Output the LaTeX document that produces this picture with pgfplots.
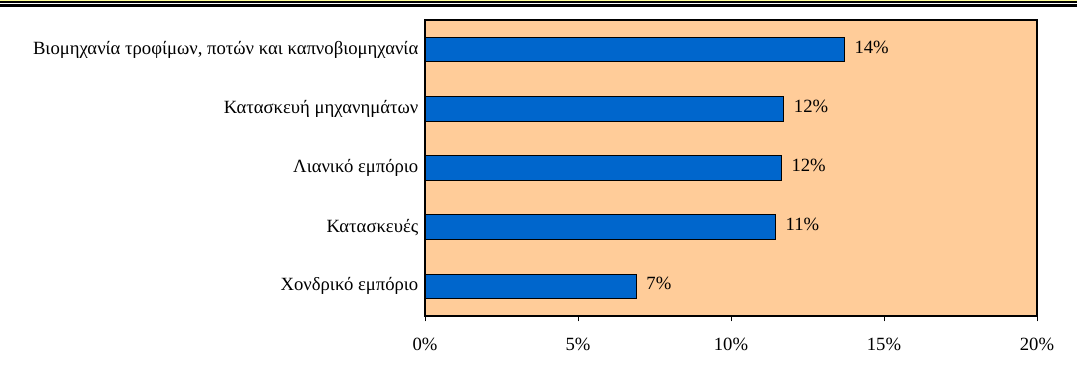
\documentclass[border=0pt]{standalone}
\usepackage{fontspec}
\setmainfont{Liberation Serif}
\usepackage{pgfplots}
\pgfplotsset{compat=1.18}
\definecolor{peach}{HTML}{FFCC99}
\definecolor{barblue}{HTML}{0066CC}
\definecolor{topyellow}{HTML}{FFFF99}
\begin{document}
\begin{tikzpicture}
\useasboundingbox (0,0) rectangle (807.75pt,280.5pt);
\fill[topyellow] (0,280.5pt) rectangle (807.75pt,280.0pt);
\draw[black,line width=1.5pt] (0,279.2pt) -- (807.75pt,279.2pt);
\draw[black,line width=2.25pt] (0,276.4pt) -- (807.75pt,276.4pt);
\begin{axis}[
  at={(318.75pt,43.5pt)}, anchor=south west,
  scale only axis, width=459pt, height=222pt,
  xmin=0, xmax=20, ymin=-0.5, ymax=4.5,
  axis background/.style={fill=peach},
  axis line style={black, line width=0.8pt},
  xbar, bar width=18.5pt,
  font=\fontsize{14}{16}\selectfont,
  xtick={0,5,10,15,20},
  xticklabels={0\%,5\%,10\%,15\%,20\%},
  xticklabel style={yshift=-9pt},
  yticklabel style={xshift=2.5pt},
  ytick={0,1,2,3,4},
  yticklabels={Χονδρικό εμπόριο, Κατασκευές, Λιανικό εμπόριο, Κατασκευή μηχανημάτων, {Βιομηχανία τροφίμων, ποτών και καπνοβιομηχανία}},
  ytick style={draw=none},
  extra y ticks={-0.5,0.5,1.5,2.5,3.5,4.5},
  extra y tick labels={},
  extra y tick style={tick style={draw=black, line width=0.6pt}},
  xtick style={draw=black, line width=0.6pt},
  xtick pos=lower, ytick pos=left,
  tick align=outside,
  major tick length=4pt,
  nodes near coords,
  point meta=explicit symbolic,
  every node near coord/.append style={font=\fontsize{14}{16}\selectfont, black, anchor=west, xshift=4pt, yshift=2pt},
]
\addplot[fill=barblue, draw=black, line width=0.8pt] coordinates {
  (6.9,0) [7\%]
  (11.45,1) [11\%]
  (11.64,2) [12\%]
  (11.72,3) [12\%]
  (13.7,4) [14\%]
};
\end{axis}
\end{tikzpicture}
\end{document}
